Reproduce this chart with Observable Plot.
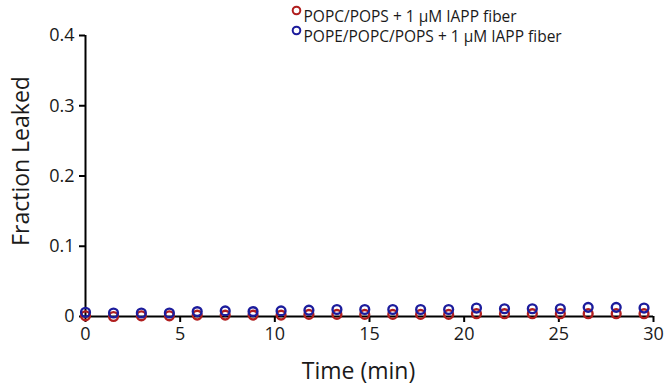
<!DOCTYPE html>
<html>
<head>
<meta charset="utf-8">
<script src="https://cdn.jsdelivr.net/npm/d3@7"></script>
<script src="https://cdn.jsdelivr.net/npm/@observablehq/plot@0.6"></script>
<style>
  html, body { margin: 0; padding: 0; background: #fff; }
  svg { display: block; }
</style>
</head>
<body>
<div id="chart"></div>
<script>
// Data
const time = [0, 1.48, 2.95, 4.43, 5.9, 7.38, 8.85, 10.33, 11.8, 13.28, 14.75, 16.23, 17.7, 19.18, 20.65, 22.13, 23.6, 25.08, 26.55, 28.03, 29.5];
const popcPops = [0.001, 0.000, 0.001, 0.001, 0.002, 0.002, 0.002, 0.002, 0.003, 0.003, 0.003, 0.003, 0.003, 0.003, 0.004, 0.004, 0.004, 0.004, 0.004, 0.004, 0.004];
const popePopcPops = [0.006, 0.005, 0.005, 0.005, 0.007, 0.008, 0.007, 0.008, 0.009, 0.010, 0.010, 0.010, 0.010, 0.010, 0.012, 0.011, 0.011, 0.011, 0.013, 0.013, 0.012];
const seriesNames = ["POPC/POPS + 1 \u03bcM IAPP fiber", "POPE/POPC/POPS + 1 \u03bcM IAPP fiber"];
const seriesColors = ["#b01e1e", "#1c1c9c"];
const xTicks = [0, 5, 10, 15, 20, 25, 30];
const yTicks = [0, 0.1, 0.2, 0.3, 0.4];
const xTitle = "Time (min)";
const yTitle = "Fraction Leaked";

const font = "'Open Sans', Lato, sans-serif";
const series = [popcPops, popePopcPops];
const rows = series.flatMap((vals, s) => vals.map((v, i) => ({t: time[i], v, s})));
const legendRows = seriesNames.map((name, s) => ({name, s}));

const chart = Plot.plot({
  width: 668,
  height: 390,
  marginLeft: 85,
  marginRight: 15,
  marginTop: 35,
  marginBottom: 74,
  style: {fontFamily: font, background: "#fff", overflow: "visible"},
  x: {domain: [0, 30], ticks: xTicks},
  y: {domain: [0, 0.4], ticks: yTicks},
  marks: [
    Plot.axisX({ticks: xTicks, tickSize: 6, tickPadding: 5, fontSize: 18, stroke: "#000", strokeWidth: 2, color: "#1a1a1a", label: null}),
    Plot.axisY({ticks: yTicks, tickSize: 6, tickPadding: 5, fontSize: 18, stroke: "#000", strokeWidth: 2, color: "#1a1a1a", tickFormat: d => d === 0 ? "0" : d.toFixed(1), label: null}),
    Plot.text([xTitle], {frameAnchor: "bottom", dx: -11, dy: 62, text: d => d, fontSize: 23, fill: "#1a1a1a"}),
    Plot.text([yTitle], {frameAnchor: "left", textAnchor: "middle", dx: -64, dy: -15, rotate: -90, text: d => d, fontSize: 23, fill: "#1a1a1a"}),
    Plot.ruleY([0], {stroke: "#000", strokeWidth: 2}),
    Plot.ruleX([0], {stroke: "#000", strokeWidth: 2}),
    Plot.dot(rows.filter(d => d.s === 0), {x: "t", y: "v", r: 4.4, stroke: seriesColors[0], strokeWidth: 2.4, fill: "none"}),
    Plot.dot(rows.filter(d => d.s === 1), {x: "t", y: "v", r: 4.4, stroke: seriesColors[1], strokeWidth: 2.4, fill: "none"}),
    ...legendRows.map(d => Plot.dot([d], {frameAnchor: "top-left", dx: 211, dy: -25 + d.s * 20, r: 3.8, stroke: seriesColors[d.s], strokeWidth: 2, fill: "none"})),
    ...legendRows.map(d => Plot.text([d], {frameAnchor: "top-left", dx: 218, dy: -25 + d.s * 20, text: "name", textAnchor: "start", fontSize: 15.5, fill: "#1a1a1a"}))
  ]
});
chart.querySelectorAll("text").forEach(t => t.style.fontFamily = font);
document.getElementById("chart").append(chart);
</script>
</body>
</html>
